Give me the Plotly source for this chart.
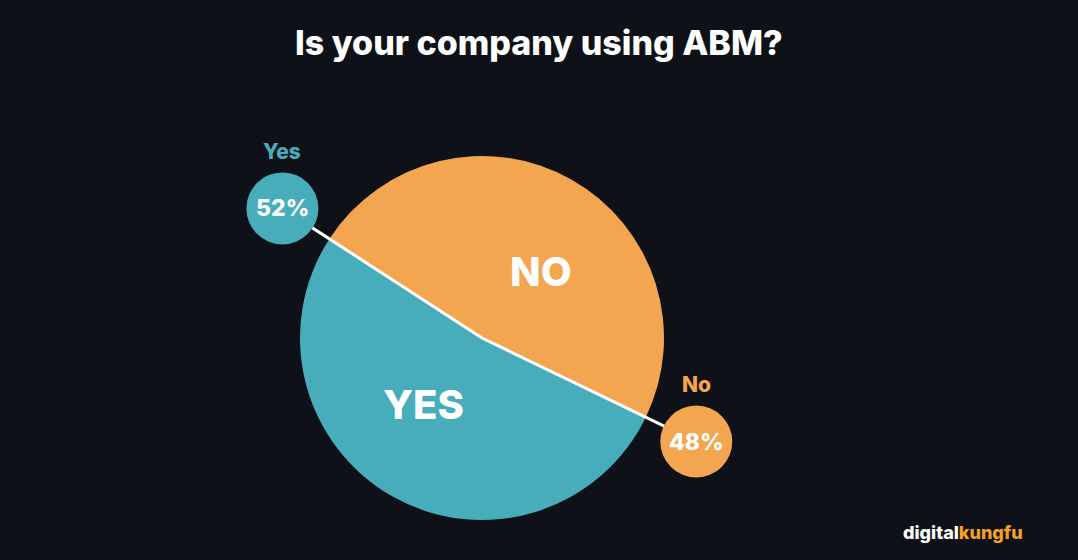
import math
import plotly.graph_objects as go

W, H = 1078, 560

# data
labels = ["NO", "YES"]
bubble_labels = ["No", "Yes"]
values = [48, 52]
colors = ["#f4a54f", "#48adba"]

bg = "#0e1118"
title = "Is your company using ABM?"

# pie geometry (pixels)
cx, cy, R = 482, 338, 182
rotation = -57
bubble_dist = 238
bubble_r = 36

fig = go.Figure(
    go.Pie(
        labels=labels,
        values=values,
        sort=False,
        direction="clockwise",
        rotation=rotation,
        marker={"colors": colors, "line": {"width": 0}},
        textinfo="none",
        hoverinfo="label+percent",
        showlegend=False,
        domain={
            "x": [(cx - R) / W, (cx + R) / W],
            "y": [(H - cy - R) / H, (H - cy + R) / H],
        },
    )
)


def to_paper(dist, compass_deg):
    a = math.radians(90 - compass_deg)
    return (cx + dist * math.cos(a)) / W, (H - cy + dist * math.sin(a)) / H


def label(x, y, text, size, color="white", family="Inter", **kw):
    d = dict(
        x=x, y=y, xref="paper", yref="paper", text=text, showarrow=False,
        xanchor="center", yanchor="middle",
        font={"size": size, "color": color, "family": family, "weight": 800},
    )
    d.update(kw)
    return d


shapes = []
annotations = []
total = sum(values)
start = rotation
for lab, blab, v, col in zip(labels, bubble_labels, values, colors):
    span = 360 * v / total
    end = start + span
    mid = start + span / 2

    # slice name inside the pie (nudged a bit clockwise of the middle)
    tx, ty = to_paper(R * 0.49, mid + 12)
    annotations.append(label(tx, ty, lab, 40))

    # separator line out to the bubble
    bx, by = to_paper(bubble_dist, end)
    shapes.append(dict(
        type="line", xref="paper", yref="paper",
        x0=cx / W, y0=(H - cy) / H, x1=bx, y1=by,
        line={"color": "white", "width": 3}, layer="above",
    ))
    shapes.append(dict(
        type="circle", xref="paper", yref="paper",
        x0=bx - bubble_r / W, x1=bx + bubble_r / W,
        y0=by - bubble_r / H, y1=by + bubble_r / H,
        fillcolor=col, line={"width": 0}, layer="above",
    ))
    annotations.append(label(bx, by, f"{round(100 * v / total)}%", 23))
    annotations.append(label(bx, by + 57 / H, blab, 21, color=col))
    start = end

# title
annotations.append(label(0.5, 1 - 43 / H, title, 34))

# logo
annotations.append(label(
    1025 / W, 1 - 532 / H,
    "digital<span style='color:#f4a024'>kungfu</span>", 18, xanchor="right",
))

fig.update_layout(
    width=W,
    height=H,
    paper_bgcolor=bg,
    plot_bgcolor=bg,
    margin=dict(l=0, r=0, t=0, b=0),
    shapes=shapes,
    annotations=annotations,
)

fig.write_html(
    "out.html",
    config={"displayModeBar": False},
    post_script="document.body.style.margin='0';document.body.style.background='%s';" % bg,
)
